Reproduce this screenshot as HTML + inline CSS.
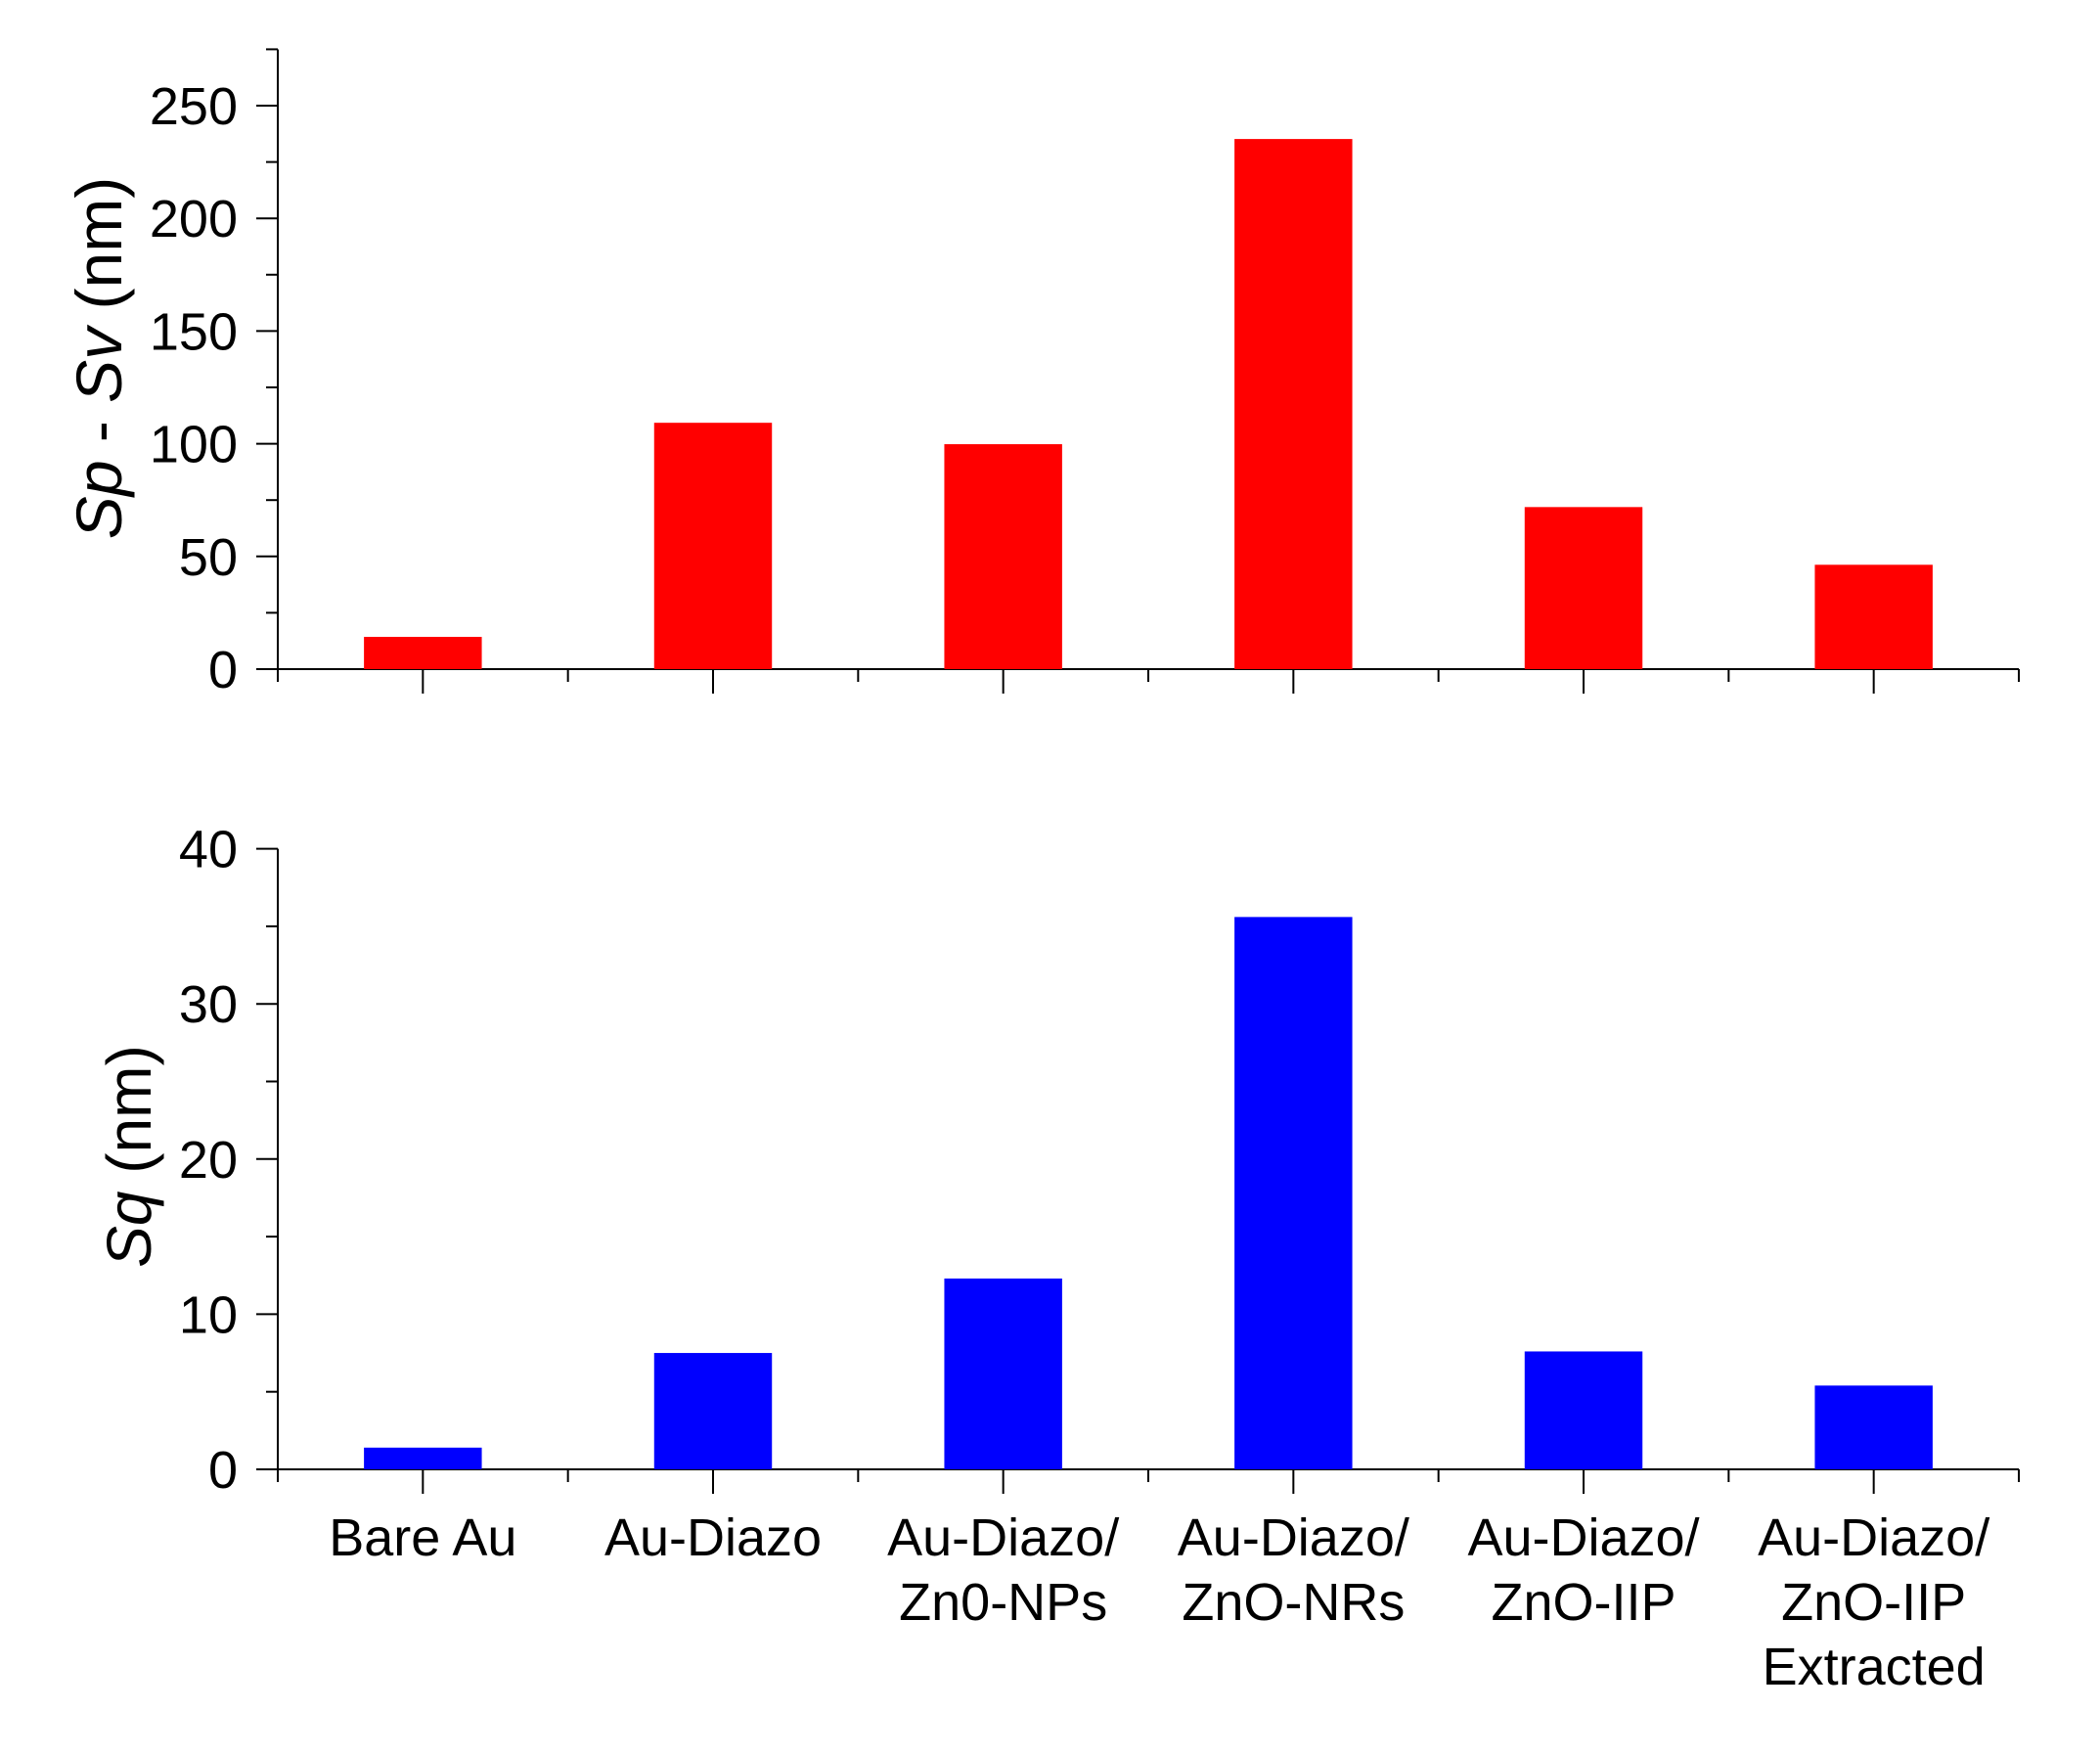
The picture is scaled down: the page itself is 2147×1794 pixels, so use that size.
<!DOCTYPE html>
<html><head><meta charset="utf-8"><style>
html,body{margin:0;padding:0;background:#fff}
svg{display:block}
text{font-family:"Liberation Sans",Arial,sans-serif;fill:#000}
</style></head><body>
<svg id="chart" width="2147" height="1794" viewBox="0 0 2147 1794" xmlns="http://www.w3.org/2000/svg"></svg>
<script>
const categories = [["Bare Au"],["Au-Diazo"],["Au-Diazo/","Zn0-NPs"],["Au-Diazo/","ZnO-NRs"],["Au-Diazo/","ZnO-IIP"],["Au-Diazo/","ZnO-IIP","Extracted"]];
const spsvValues = [14.3, 109.3, 99.8, 235.2, 71.9, 46.3];
const sqValues = [1.4, 7.5, 12.3, 35.6, 7.6, 5.4];
const topTicks = [0, 50, 100, 150, 200, 250];
const bottomTicks = [0, 10, 20, 30, 40];

const svg = document.getElementById('chart');
const NS = 'http://www.w3.org/2000/svg';
function mk(tag, attrs){const e=document.createElementNS(NS,tag);for(const k in attrs)e.setAttribute(k,attrs[k]);svg.appendChild(e);return e;}

const x0 = 284, x1 = 2064;
const step = (x1 - x0) / categories.length;
const barW = step * 0.406;
function xc(i){return x0 + step*(i+0.5);}

function panel(cfg){
  const y = v => cfg.yBase - (v - 0) * (cfg.yBase - cfg.yRef) / cfg.ref;
  let a = mk('line',{x1:x0,y1:cfg.yTop,x2:x0,y2:cfg.yBase+13,stroke:'#000','stroke-width':2});
  
  
  a = mk('line',{x1:x0-22,y1:cfg.yBase,x2:x1,y2:cfg.yBase,stroke:'#000','stroke-width':2});
  
  
  const minorStep = cfg.ticks[1]/2;
  for(let v=0; y(v) >= cfg.yTop-1; v+=minorStep){
    const major = Math.abs(v/cfg.ticks[1] - Math.round(v/cfg.ticks[1]))<1e-6;
    const t = mk('line',{x1:x0-(major?22:12),y1:y(v),x2:x0,y2:y(v),stroke:'#000','stroke-width':2});
    
    
  }
  cfg.ticks.forEach(v=>{
    const t = mk('text',{x:243,y:y(v)+19,'text-anchor':'end','font-size':54});
    t.textContent = v;
    
    
  });
  for(let i=0;i<categories.length;i++){
    let t = mk('line',{x1:xc(i),y1:cfg.yBase,x2:xc(i),y2:cfg.yBase+25,stroke:'#000','stroke-width':2});
    
    
    t = mk('line',{x1:x0+step*(i+1),y1:cfg.yBase,x2:x0+step*(i+1),y2:cfg.yBase+13,stroke:'#000','stroke-width':2});
    
    
  }
  cfg.values.forEach((v,i)=>{
    const r = mk('rect',{x:xc(i)-barW/2,y:y(v),width:barW,height:cfg.yBase-y(v),fill:cfg.color});
    
    
  });
}

panel({name:'spsv',yBase:684,yRef:108,ref:250,yTop:50.5,ticks:topTicks,values:spsvValues,color:'#ff0000'});
panel({name:'sq',yBase:1502,yRef:867.6,ref:40,yTop:867.6,ticks:bottomTicks,values:sqValues,color:'#0000ff'});

categories.forEach((lines,i)=>{
  lines.forEach((s,j)=>{
    const t = mk('text',{x:xc(i),y:1590+j*66,'text-anchor':'middle','font-size':54});
    t.textContent = s;
    
    
  });
});

let t1 = mk('text',{transform:'translate(124,366) rotate(-90)','text-anchor':'middle','font-size':66});
t1.innerHTML = '<tspan font-style="italic">Sp</tspan> - <tspan font-style="italic">Sv</tspan> (nm)';


let t2 = mk('text',{transform:'translate(154,1182) rotate(-90)','text-anchor':'middle','font-size':64});
t2.innerHTML = '<tspan font-style="italic">Sq</tspan> (nm)';


</script>
</body></html>
